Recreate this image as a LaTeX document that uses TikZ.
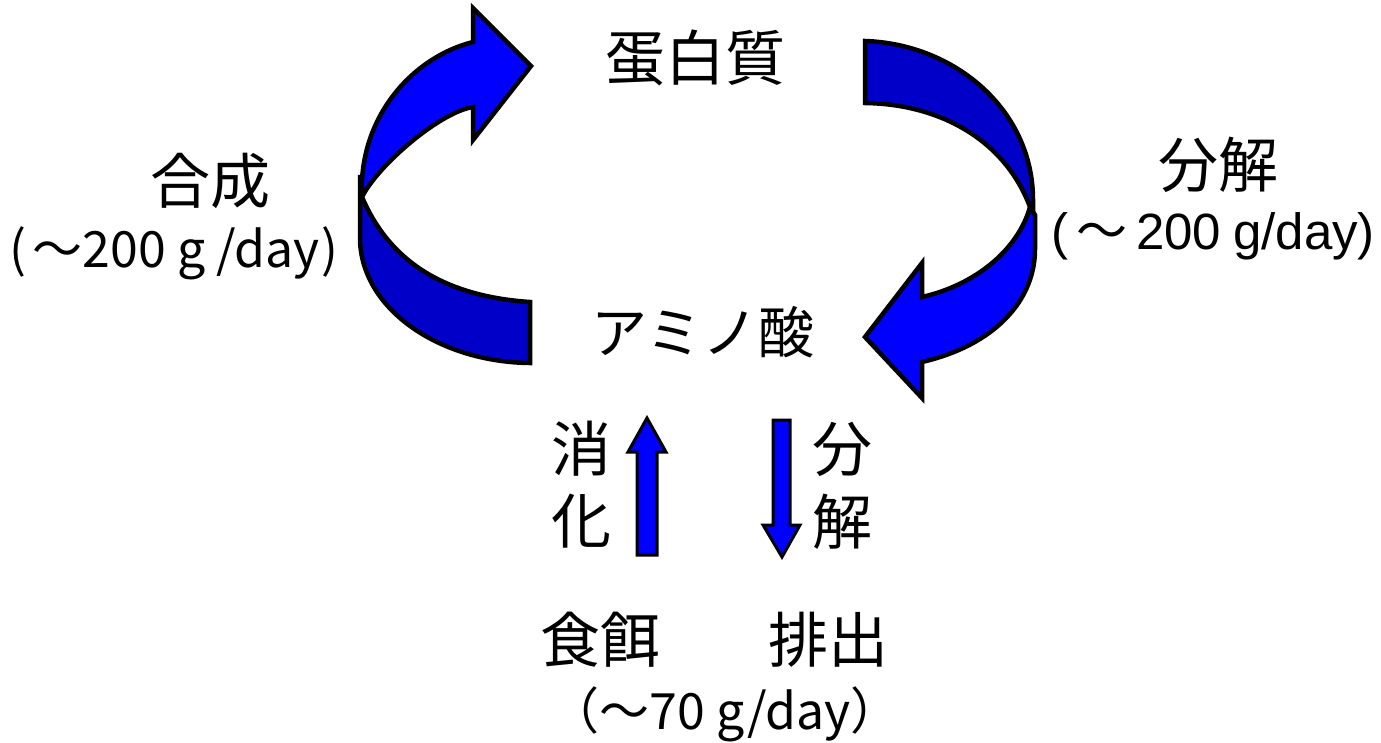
\documentclass[tikz,border=0pt]{standalone}
\usepackage{fontspec}
\setmainfont{Noto Sans CJK JP}
\newfontfamily\lib{Liberation Sans}
\definecolor{arrowblue}{HTML}{0000FF}
\definecolor{arrowdark}{HTML}{0000C8}
\begin{document}
\begin{tikzpicture}[x=1pt,y=-1pt,
  big/.style={font=\fontsize{60}{66}\selectfont, inner sep=0},
  small/.style={font=\fontsize{50}{56}\selectfont, inner sep=0},
  front/.style={fill=arrowblue, draw=black, line width=4.5pt, line join=miter},
  back/.style={fill=arrowdark, draw=black, line width=4.5pt, line join=miter},
  thin/.style={fill=arrowblue, draw=black, line width=3pt, line join=miter}]
\useasboundingbox (0,0) rectangle (1381,742);

% labels
\node[big] (protein) at (695,58) {蛋白質};
\node[big, font=\fontsize{56}{62}\selectfont] (amino) at (703,332) {アミノ酸};
\node[big] (synth) at (210,181) {合成};
\node[small] (synthrate) at (174,253) {(\hspace{6pt}～200\hspace{12pt}g\hspace{10pt}/day\hspace{2pt})};
\node[big] (decomp) at (1218,165) {分解};
\node[small, font=\fontsize{51}{56}\selectfont] (decomprate) at (1213,236) {{\lib(}\,～\,{\lib 200\hspace{12pt}g/day)}};
\node[big] (digest1) at (581,449) {消};
\node[big] (digest2) at (581,521) {化};
\node[big] (decomp2a) at (842,449) {分};
\node[big] (decomp2b) at (842,522) {解};
\node[big] (food) at (600,640) {食餌};
\node[big] (excrete) at (828,640) {排出};
\node[small] (foodrate) at (725,714) {（～70 g/day）};

% left curved arrow: back part
\path[back] (360,175) -- (360,240) .. controls (362,310) and (440,362) .. (530,363)
  -- (530,302) .. controls (440,296) and (388,258) .. (362,197) -- cycle;
% left curved arrow: front part
\path[front] (362,197) .. controls (358,120) and (410,58) .. (473,42)
  -- (473,8) -- (531,66) -- (473,140) -- (473,107)
  .. controls (440,112) and (378,165) .. (362,197) -- cycle;

% right curved arrow: back part
\path[back] (865,41) .. controls (955,44) and (1033,110) .. (1033,200)
  -- (1033,212) -- (1030,207) .. controls (1005,140) and (940,104) .. (865,103) -- cycle;
% right curved arrow: front part
\path[front] (1030,207) -- (1035,215) -- (1035,247)
  .. controls (1036,300) and (995,345) .. (922,362)
  -- (922,398) -- (865,337) -- (922,263) -- (922,297)
  .. controls (975,285) and (1018,250) .. (1030,207) -- cycle;

% small arrows
\path[thin] (637,555) -- (637,452) -- (628,452) -- (647,418) -- (666,452) -- (657,452) -- (657,555) -- cycle;
\path[thin] (773,420) -- (790,420) -- (790,525) -- (800,525) -- (782,557) -- (763,525) -- (773,525) -- cycle;
\end{tikzpicture}
\end{document}
